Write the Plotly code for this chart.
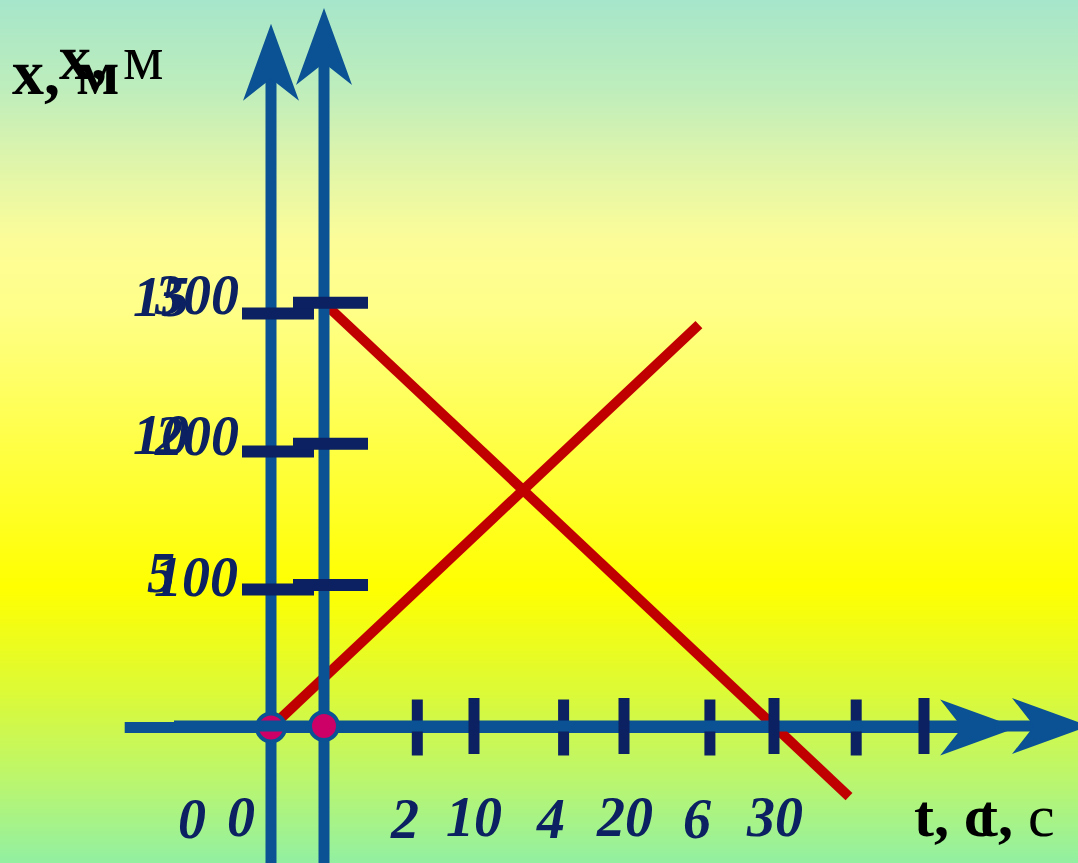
import numpy as np
import plotly.graph_objects as go

# ---------------------------------------------------------------------------
# Data: two uniform motions drawn on two superimposed coordinate systems
# ---------------------------------------------------------------------------
# Motion 1: small scale (t in s, x in m)
t1_line = [0, 5.85]
x1_line = [0, 14.6]
t1_ticks = [2, 4, 6, 8]
t1_labels = [0, 2, 4, 6]
x1_ticks = [5, 10, 15]

# Motion 2: large scale (t in s, x in m)
t2_line = [0, 35]
x2_line = [300, -50]
t2_ticks = [10, 20, 30, 40]
t2_labels = [0, 10, 20, 30]
x2_ticks = [100, 200, 300]

axis_title_x = "x, м"
axis_title_t = "t, с"

# ---------------------------------------------------------------------------
# Styling / calibration of both coordinate systems on the 1078x863 canvas
# ---------------------------------------------------------------------------
W, H = 1078, 863
AXIS_BLUE = "#0a5294"
TICK_NAVY = "#0b2161"
RED = "#c00000"
DOT = "#cc0066"
SERIF = "Liberation Serif"

systems = {
    "A": dict(xa="x2", ya="y2", t0=271, tpx=73.15, x0=727.5, xpx=27.6,
              t_start=-2, t_tip=10.2, x_bottom=-6, x_tip=25.5,
              xt_half=28, yt_from=-29, yt_to=43,
              ylab_dx=-110, ylab_dy=17, zero_dx=-79, tlab_dx=-13),
    "B": dict(xa="x3", ya="y3", t0=324, tpx=15.0, x0=726, xpx=1.4107,
              t_start=-10, t_tip=51, x_bottom=-100, x_tip=509,
              xt_half=28, yt_from=-31, yt_to=44,
              ylab_dx=-128, ylab_dy=8, zero_dx=-83, tlab_dx=0),
}
for s in systems.values():
    s["trange"] = [-s["t0"] / s["tpx"], (W - s["t0"]) / s["tpx"]]
    s["xrange"] = [-(H - s["x0"]) / s["xpx"], s["x0"] / s["xpx"]]

fig = go.Figure()

# Background: vertical colour gradient
n = 300
gy = np.linspace(0, 1, n)
grad_scale = [
    [0.00, "#a6e6ca"], [0.10, "#bdedbc"], [0.18, "#dcf4ac"],
    [0.28, "#fdfd98"], [0.36, "#ffff88"], [0.50, "#ffff4c"],
    [0.68, "#ffff00"], [0.80, "#dcfa36"], [0.90, "#bcf66c"],
    [1.00, "#92f0a2"],
]
fig.add_trace(go.Heatmap(
    x=[0, 1], y=gy, z=[[1 - v, 1 - v] for v in gy],
    colorscale=grad_scale, zmin=0, zmax=1, zsmooth="best",
    showscale=False, hoverinfo="skip", xaxis="x", yaxis="y"))


def seg_trace(xs, ys, s, color, width):
    return go.Scatter(x=xs, y=ys, mode="lines", xaxis=s["xa"], yaxis=s["ya"],
                      line=dict(color=color, width=width), hoverinfo="skip")


def arrow_poly(s, direction):
    """Notched arrowhead at the end of an axis, sized in pixels."""
    L, half, notch = 77, 28, 22
    dt = lambda p: p / s["tpx"]
    dx = lambda p: p / s["xpx"]
    if direction == "up":
        tip = s["x_tip"]
        xs = [0, dt(half), 0, -dt(half), 0]
        ys = [tip, tip - dx(L), tip - dx(L - notch), tip - dx(L), tip]
    else:
        tip = s["t_tip"]
        xs = [tip, tip - dt(L), tip - dt(L - notch), tip - dt(L), tip]
        ys = [0, dx(half), 0, -dx(half), 0]
    return go.Scatter(x=xs, y=ys, mode="lines", fill="toself",
                      fillcolor=AXIS_BLUE, line=dict(width=0, color=AXIS_BLUE),
                      xaxis=s["xa"], yaxis=s["ya"], hoverinfo="skip")


data = {
    "A": dict(tl=t1_line, xl=x1_line, tt=t1_ticks, xt=x1_ticks, lab=t1_labels),
    "B": dict(tl=t2_line, xl=x2_line, tt=t2_ticks, xt=x2_ticks, lab=t2_labels),
}

annotations = []
for key in ["A", "B"]:
    s, d = systems[key], data[key]
    # motion line
    fig.add_trace(seg_trace(d["tl"], d["xl"], s, RED, 10))
    # axis shafts
    fig.add_trace(seg_trace([s["t_start"], s["t_tip"] - 40 / s["tpx"]], [0, 0], s, AXIS_BLUE, 11))
    fig.add_trace(seg_trace([0, 0], [s["x_bottom"], s["x_tip"] - 40 / s["xpx"]], s, AXIS_BLUE, 11))
    fig.add_trace(arrow_poly(s, "right"))
    fig.add_trace(arrow_poly(s, "up"))
    # tick bars on the time axis
    tx, ty = [], []
    for t in d["tt"]:
        h = s["xt_half"] / s["xpx"]
        tx += [t, t, None]
        ty += [-h, h, None]
    fig.add_trace(seg_trace(tx, ty, s, TICK_NAVY, 11))
    # tick bars on the coordinate axis
    tx, ty = [], []
    for x in d["xt"]:
        tx += [s["yt_from"] / s["tpx"], s["yt_to"] / s["tpx"], None]
        ty += [x, x, None]
    fig.add_trace(seg_trace(tx, ty, s, TICK_NAVY, 12))
    # origin dot
    fig.add_trace(go.Scatter(x=[0], y=[0], mode="markers", xaxis=s["xa"], yaxis=s["ya"],
                             marker=dict(size=28, color=DOT, line=dict(color=AXIS_BLUE, width=4)),
                             hoverinfo="skip"))
    # tick labels
    lab_font = dict(family=SERIF, size=56, color=TICK_NAVY)
    for x in d["xt"]:
        annotations.append(dict(x=0, y=x, xref=s["xa"], yref=s["ya"], text=f"<b><i>{x}</i></b>",
                                showarrow=False, xanchor="center", yanchor="middle",
                                xshift=s["ylab_dx"], yshift=s["ylab_dy"], font=lab_font))
    for t in d["lab"]:
        annotations.append(dict(x=t, y=0, xref=s["xa"], yref=s["ya"], text=f"<b><i>{t}</i></b>",
                                showarrow=False, xanchor="center", yanchor="middle",
                                xshift=s["zero_dx"] if t == 0 else s["tlab_dx"], yshift=-91,
                                font=lab_font))

# axis titles
top_font = dict(family=SERIF, size=64, color="black")
bot_font = dict(family=SERIF, size=60, color="black")
xv, xu = axis_title_x.split(" ")
tv, tu = axis_title_t.split(" ")
annotations += [
    dict(x=10 / W, y=1 - 73 / H, xref="paper", yref="paper", text=f"<b>{xv} {xu}</b>",
         showarrow=False, xanchor="left", yanchor="middle", font=top_font),
    dict(x=57 / W, y=1 - 57 / H, xref="paper", yref="paper", text=f"<b>{xv}</b> {xu}",
         showarrow=False, xanchor="left", yanchor="middle", font=top_font),
    dict(x=912 / W, y=1 - 816 / H, xref="paper", yref="paper", text=f"<b>{tv} {tu}</b>",
         showarrow=False, xanchor="left", yanchor="middle", font=bot_font),
    dict(x=976 / W, y=1 - 816 / H, xref="paper", yref="paper", text=f"<b>{tv}</b> {tu}",
         showarrow=False, xanchor="left", yanchor="middle", font=bot_font),
]

hidden = dict(visible=False, fixedrange=True, showgrid=False, zeroline=False)
fig.update_layout(
    width=W, height=H, margin=dict(l=0, r=0, t=0, b=0, pad=0),
    paper_bgcolor="white", plot_bgcolor="rgba(0,0,0,0)", showlegend=False,
    xaxis=dict(range=[0, 1], domain=[0, 1], **hidden),
    yaxis=dict(range=[0, 1], domain=[0, 1], **hidden),
    xaxis2=dict(range=systems["A"]["trange"], overlaying="x", **hidden),
    yaxis2=dict(range=systems["A"]["xrange"], overlaying="y", **hidden),
    xaxis3=dict(range=systems["B"]["trange"], overlaying="x", **hidden),
    yaxis3=dict(range=systems["B"]["xrange"], overlaying="y", **hidden),
    annotations=annotations,
)

fig.write_html("out.html")
